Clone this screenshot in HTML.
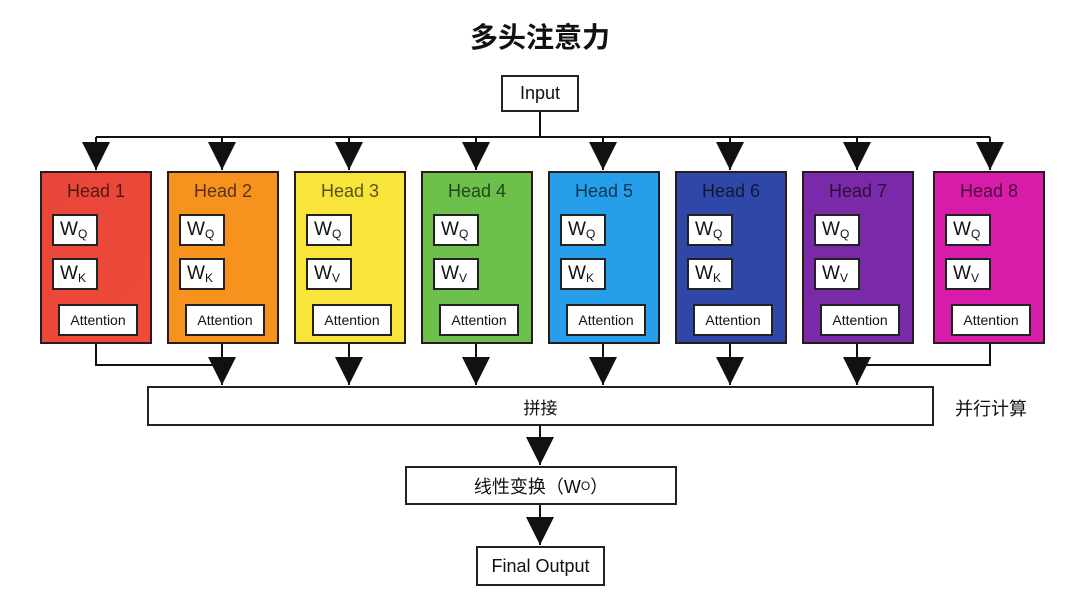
<!DOCTYPE html>
<html><head><meta charset="utf-8"><style>
body{margin:0;width:1080px;height:603px;background:#fff;position:relative;font-family:"Liberation Sans","Noto Sans CJK SC",sans-serif;overflow:hidden}
.b{position:absolute;background:#fff;border:2px solid #222;box-sizing:border-box;display:flex;align-items:center;justify-content:center;color:#111}
.h{position:absolute;top:171px;width:112px;height:173px;border:2px solid #2a1a1a;box-sizing:border-box}
.h .t{position:absolute;top:8px;width:100%;text-align:center;font-size:18px;color:rgba(0,0,0,.65)}
.w{position:absolute;left:10px;width:46px;height:32px;background:#fff;border:2px solid #222;box-sizing:border-box;font-size:19px;padding-left:6px;line-height:28px;color:#111}
.w sub{font-size:12px;vertical-align:-3px}
.a{position:absolute;left:16px;top:131px;width:80px;height:32px;background:#fff;border:2px solid #222;box-sizing:border-box;font-size:14px;text-align:center;line-height:28px;color:#111}
</style></head><body>
<div style="position:absolute;top:16px;width:1080px;text-align:center;font-size:28px;font-weight:bold;color:#111">多头注意力</div>
<svg width="1080" height="603" style="position:absolute;left:0;top:0">
<defs><marker id="m" markerWidth="10" markerHeight="10" refX="5" refY="9" orient="auto" markerUnits="userSpaceOnUse"><path d="M0,0 L10,0 L5,10z" fill="#111"/></marker>
<marker id="d" viewBox="0 0 10 10" markerWidth="14" markerHeight="14" refX="5" refY="10" orient="0"><path d="M0,0 L10,0 L5,10z" fill="#111"/></marker></defs>
<g stroke="#111" stroke-width="2" fill="none">
<path d="M540 111V137M96 137H990"/>
<path d="M96 137V170" marker-end="url(#d)"/><path d="M222 137V170" marker-end="url(#d)"/><path d="M349 137V170" marker-end="url(#d)"/><path d="M476 137V170" marker-end="url(#d)"/><path d="M603 137V170" marker-end="url(#d)"/><path d="M730 137V170" marker-end="url(#d)"/><path d="M857 137V170" marker-end="url(#d)"/><path d="M990 137V170" marker-end="url(#d)"/>
<path d="M96 343V365H222M990 343V365H857"/>
<path d="M222 343V385" marker-end="url(#d)"/><path d="M349 343V385" marker-end="url(#d)"/><path d="M476 343V385" marker-end="url(#d)"/><path d="M603 343V385" marker-end="url(#d)"/><path d="M730 343V385" marker-end="url(#d)"/><path d="M857 343V385" marker-end="url(#d)"/>
<path d="M540 425V465" marker-end="url(#d)"/><path d="M540 504V545" marker-end="url(#d)"/>
</g></svg>
<div class="b" style="left:501px;top:75px;width:78px;height:37px;font-size:18px">Input</div>

<div class="h" style="left:40px;background:linear-gradient(135deg,#e8463a,#ef4a3a)"><div class="t">Head 1</div><div class="w" style="top:41px">W<sub>Q</sub></div><div class="w" style="top:85px">W<sub>K</sub></div><div class="a">Attention</div></div>
<div class="h" style="left:167px;background:#f7921f"><div class="t">Head 2</div><div class="w" style="top:41px">W<sub>Q</sub></div><div class="w" style="top:85px">W<sub>K</sub></div><div class="a">Attention</div></div>
<div class="h" style="left:294px;background:#f9e43c"><div class="t">Head 3</div><div class="w" style="top:41px">W<sub>Q</sub></div><div class="w" style="top:85px">W<sub>V</sub></div><div class="a">Attention</div></div>
<div class="h" style="left:421px;background:#6bbf4a"><div class="t">Head 4</div><div class="w" style="top:41px">W<sub>Q</sub></div><div class="w" style="top:85px">W<sub>V</sub></div><div class="a">Attention</div></div>
<div class="h" style="left:548px;background:#279ee9"><div class="t">Head 5</div><div class="w" style="top:41px">W<sub>Q</sub></div><div class="w" style="top:85px">W<sub>K</sub></div><div class="a">Attention</div></div>
<div class="h" style="left:675px;background:#2f47a6"><div class="t">Head 6</div><div class="w" style="top:41px">W<sub>Q</sub></div><div class="w" style="top:85px">W<sub>K</sub></div><div class="a">Attention</div></div>
<div class="h" style="left:802px;background:#7a2aa8"><div class="t">Head 7</div><div class="w" style="top:41px">W<sub>Q</sub></div><div class="w" style="top:85px">W<sub>V</sub></div><div class="a">Attention</div></div>
<div class="h" style="left:933px;background:#d81caa"><div class="t">Head 8</div><div class="w" style="top:41px">W<sub>Q</sub></div><div class="w" style="top:85px">W<sub>V</sub></div><div class="a">Attention</div></div>

<div class="b" style="left:147px;top:386px;width:787px;height:40px;font-size:17px">拼接</div>
<div style="position:absolute;left:955px;top:395px;font-size:18px;color:#111">并行计算</div>
<div class="b" style="left:405px;top:466px;width:272px;height:39px;font-size:18px">线性变换（W<sub style="font-size:12px;vertical-align:-3px">O</sub>）</div>
<div class="b" style="left:476px;top:546px;width:129px;height:40px;font-size:18px">Final Output</div>
</body></html>
